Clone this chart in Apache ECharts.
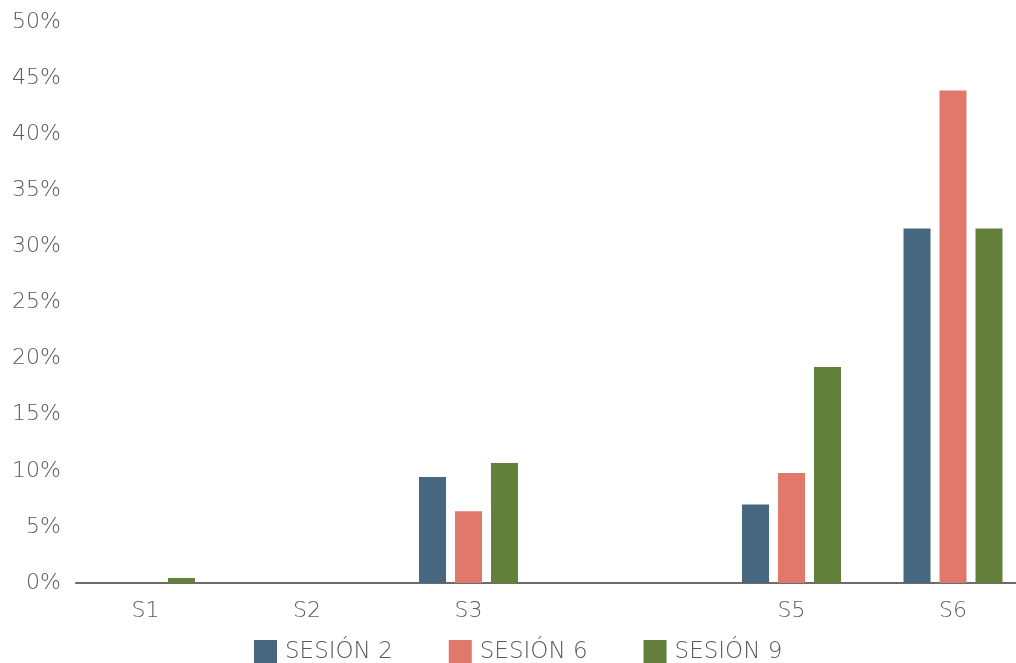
<!DOCTYPE html>
<html>
<head>
<meta charset="utf-8">
<script src="https://cdn.jsdelivr.net/npm/echarts@6/dist/echarts.min.js"></script>
<style>
  html, body { margin: 0; padding: 0; background: #fff; }
  #chart { width: 1016px; height: 663px; }
</style>
</head>
<body>
<div id="chart"></div>
<script>
// categorias (la cuarta no lleva etiqueta)
const categories = ['S1', 'S2', 'S3', '', 'S5', 'S6'];
const sesion2 = [0, 0, 9.45, 0, 7.0, 31.6];
const sesion6 = [0, 0, 6.4, 0, 9.8, 43.9];
const sesion9 = [0.45, 0, 10.7, 0, 19.25, 31.6];
const yTicks = [0, 5, 10, 15, 20, 25, 30, 35, 40, 45, 50];

const labelColor = '#595959';
const fontFamily = '"DejaVu Sans", sans-serif';

function toPairs(arr) {
  return arr.map((v, i) => [i + 1, v]);
}

const myChart = echarts.init(document.getElementById('chart'));
myChart.setOption({
  animation: false,
  grid: {
    left: 76,
    right: 0,
    top: 22,
    bottom: 80
  },
  legend: {
    left: 249,
    top: 635,
    itemWidth: 23,
    itemHeight: 24,
    itemGap: 56,
    icon: 'rect',
    textStyle: {
      color: labelColor,
      fontSize: 23,
      fontWeight: 300,
      fontFamily: fontFamily,
      width: 112,
      padding: [2, 0, 0, 3]
    },
    data: ['SESIÓN 2', 'SESIÓN 6', 'SESIÓN 9']
  },
  xAxis: {
    type: 'value',
    min: 0.5697,
    max: 6.39,
    splitLine: { show: false },
    axisTick: { show: false },
    axisLine: { show: true, lineStyle: { color: '#6b6b6b', width: 2 } },
    axisLabel: {
      customValues: categories.map((c, i) => i + 1),
      formatter: v => categories[Math.round(v) - 1],
      color: labelColor,
      fontSize: 22,
      fontWeight: 300,
      fontFamily: fontFamily,
      margin: 17
    }
  },
  yAxis: {
    type: 'value',
    min: 0,
    max: 50,
    interval: 5,
    splitLine: { show: false },
    axisLine: { show: false },
    axisTick: { show: false },
    axisLabel: {
      customValues: yTicks,
      formatter: '{value}%',
      color: labelColor,
      fontSize: 22,
      fontWeight: 300,
      fontFamily: fontFamily,
      margin: 15
    }
  },
  series: [
    {
      name: 'SESIÓN 2',
      type: 'bar',
      data: toPairs(sesion2),
      barWidth: 27,
      barGap: '33.3%',
      itemStyle: { color: '#47667f' }
    },
    {
      name: 'SESIÓN 6',
      type: 'bar',
      data: toPairs(sesion6),
      barWidth: 27,
      barGap: '33.3%',
      itemStyle: { color: '#e0796b' }
    },
    {
      name: 'SESIÓN 9',
      type: 'bar',
      data: toPairs(sesion9),
      barWidth: 27,
      barGap: '33.3%',
      itemStyle: { color: '#63803b' }
    }
  ]
});
</script>
</body>
</html>
